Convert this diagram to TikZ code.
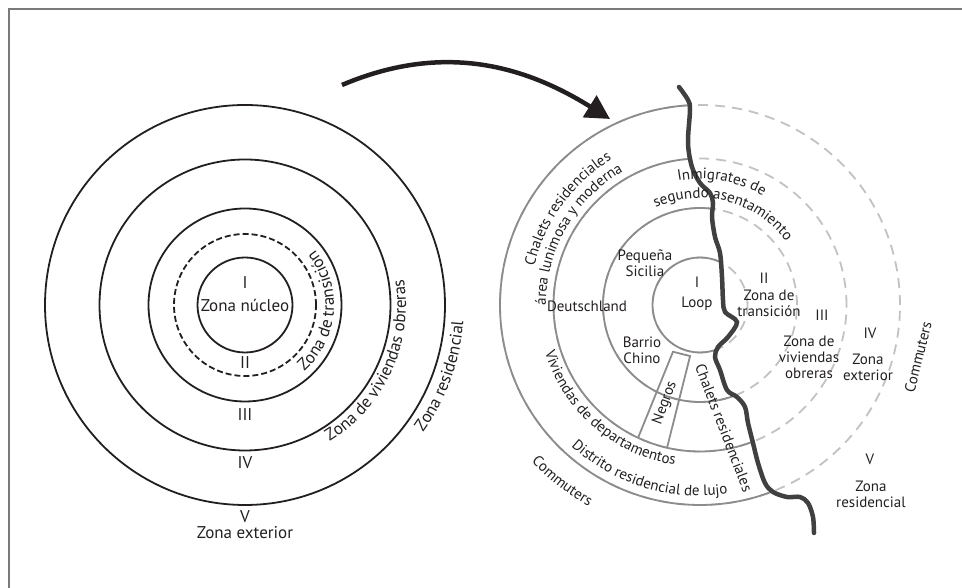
\documentclass[tikz,border=0pt]{standalone}
\usepackage{fontspec}
\setmainfont{PT Sans}
\usepackage{xcolor}
\usepackage{tikz}
\usetikzlibrary{positioning, arrows.meta, calc, decorations.text}

\definecolor{ink}{HTML}{231F20}
\definecolor{ringgray}{HTML}{8C8C8C}
\definecolor{dashgray}{HTML}{C2C2C2}
\definecolor{rivergray}{HTML}{404040}
\definecolor{framegray}{HTML}{7A7A7A}

\newcommand{\lblfont}{\fontsize{15}{16}\selectfont}
\newcommand{\bigfont}{\fontsize{17}{18}\selectfont}

\tikzset{
  lbl/.style={font=\lblfont, text=ink, inner sep=0pt, align=center},
  biglbl/.style={font=\bigfont, text=ink, inner sep=0pt, align=center},
  arctext/.style={decorate, decoration={text along path, text align=center, text={#1}}},
  ring/.style={ringgray, line width=1.8pt},
  ringdash/.style={dashgray, line width=1.8pt, dash pattern=on 10pt off 7pt},
  river/.style={insert path={-- plot[smooth, tension=0.55] coordinates {
    (679,501) (688,488) (690,478) (688,445) (692,421) (700,405) (710,395)
    (713,385) (712,371) (715,351) (720,335) (722,311) (723,288) (725,276)
    (737,266) (728,251) (718,241) (715,231) (720,218) (727,198) (737,191)
    (745,181) (748,165) (753,145) (758,125) (765,105) (773,96) (787,91)
    (800,91) (808,85) (813,71) (814,55)}}}
}

\begin{document}
\begin{tikzpicture}[x=1pt, y=1pt, every node/.style={font=\lblfont}]
\useasboundingbox (0,0) rectangle (962,588);

% Frame (only top and left edge show)
\draw[framegray, line width=1.5pt] (9,0) -- (9,579) -- (962,579);

\coordinate (lc) at (245,283);
\coordinate (rc) at (700,283);

% Left model: concentric zones
\foreach \r in {47.5,96.5,145.5,200}
  \draw[ink, line width=1.8pt] (lc) circle[radius=\r];
\draw[ink, line width=1.8pt, dash pattern=on 6pt off 3pt] (lc) circle[radius=71];

\node[biglbl] (li) at (245,305) {I};
\node[biglbl] (lcore) at (245,283) {Zona núcleo};
\node[biglbl] (lii) at (245,225) {II};
\node[biglbl] (liii) at (245,173) {III};
\node[biglbl] (liv) at (245,125) {IV};
\node[biglbl] (lv) at (245,71) {V};
\node[biglbl] (lext) at (245,55) {Zona exterior};

% Curved labels, left
\path[arctext={|\bigfont\color{ink}|Zona de transición}]
  ([shift={(-80:89)}]lc) arc[start angle=-80, end angle=70, radius=89];
\path[arctext={|\bigfont\color{ink}|Zona de viviendas obreras}]
  ([shift={(-100:161)}]lc) arc[start angle=-100, end angle=51, radius=161];
\path[arctext={|\bigfont\color{ink}|Zona residencial}]
  ([shift={(-60:219)}]lc) arc[start angle=-60, end angle=20, radius=219];

% Arrow from model to city
\draw[ink, line width=4.5pt, -{Triangle[length=24pt, width=25pt]}]
  (342,503) to[out=23, in=148] (610,469);

% Right model: dashed east side, solid west side
\foreach \r in {47.5,97,146.5,200}
  \draw[ringdash] (rc) circle[radius=\r];
\begin{scope}
  \clip (400,501) [river] -- (400,40) -- cycle;
  \foreach \r in {47.5,97,146.5,200}
    \draw[ring] (rc) circle[radius=\r];
\end{scope}

% Negros strip
\draw[ring] ([shift={(245:146.5)}]rc) -- ([shift={(240:54)}]rc)
  -- ([shift={(259:52)}]rc) -- ([shift={(257:146.5)}]rc);

% River
\draw[rivergray, line width=4.5pt, line cap=round] (679,501) [river];

% Labels, right
\node[lbl] (ri) at (697,306) {I};
\node[lbl] (rloop) at (697,284) {Loop};
\node[lbl] (rii) at (764,310) {II};
\node[lbl] (rtrans) at (769,285) {Zona de\\transición};
\node[lbl] (rsic) at (645,325) {Pequeña\\Sicilia};
\node[lbl] (rdeu) at (587,282) {Deutschland};
\node[lbl] (rchino) at (642,238) {Barrio\\Chino};
\node[lbl] (riii) at (822,273) {III};
\node[lbl] (robr) at (809,231) {Zona de\\viviendas\\obreras};
\node[lbl] (riv) at (870,255) {IV};
\node[lbl] (rext) at (868,221) {Zona\\exterior};
\node[lbl, rotate=76] (rcomm) at (918,231) {Commuters};
\node[lbl] (rv) at (870,129) {V};
\node[lbl] (rres) at (871,94) {Zona\\residencial};
\node[lbl, rotate=70] (rneg) at (665,185) {Negros};
\node[lbl, rotate=-69] (rchal) at (724,160) {Chalets residenciales};

% Curved labels, right
\path[arctext={|\lblfont\color{ink}|Chalets residenciales}]
  ([shift={(190:170)}]rc) arc[start angle=190, end angle=98, radius=170];
\path[arctext={|\lblfont\color{ink}|área lunimosa y moderna}]
  ([shift={(200:154)}]rc) arc[start angle=200, end angle=100, radius=154];
\path[arctext={|\lblfont\color{ink}|Inmigrates de}]
  ([shift={(125:126)}]rc) arc[start angle=125, end angle=35, radius=126];
\path[arctext={|\lblfont\color{ink}|segundo asentamiento}]
  ([shift={(135:107)}]rc) arc[start angle=135, end angle=16, radius=107];
\path[arctext={|\lblfont\color{ink}|Viviendas de departamentos}]
  ([shift={(180:162)}]rc) arc[start angle=180, end angle=278, radius=162];
\path[arctext={|\lblfont\color{ink}|Distrito residencial de lujo}]
  ([shift={(205:191)}]rc) arc[start angle=205, end angle=301, radius=191];
\path[arctext={|\lblfont\color{ink}|Commuters}]
  ([shift={(200:230)}]rc) arc[start angle=200, end angle=264, radius=230];

\end{tikzpicture}
\end{document}
